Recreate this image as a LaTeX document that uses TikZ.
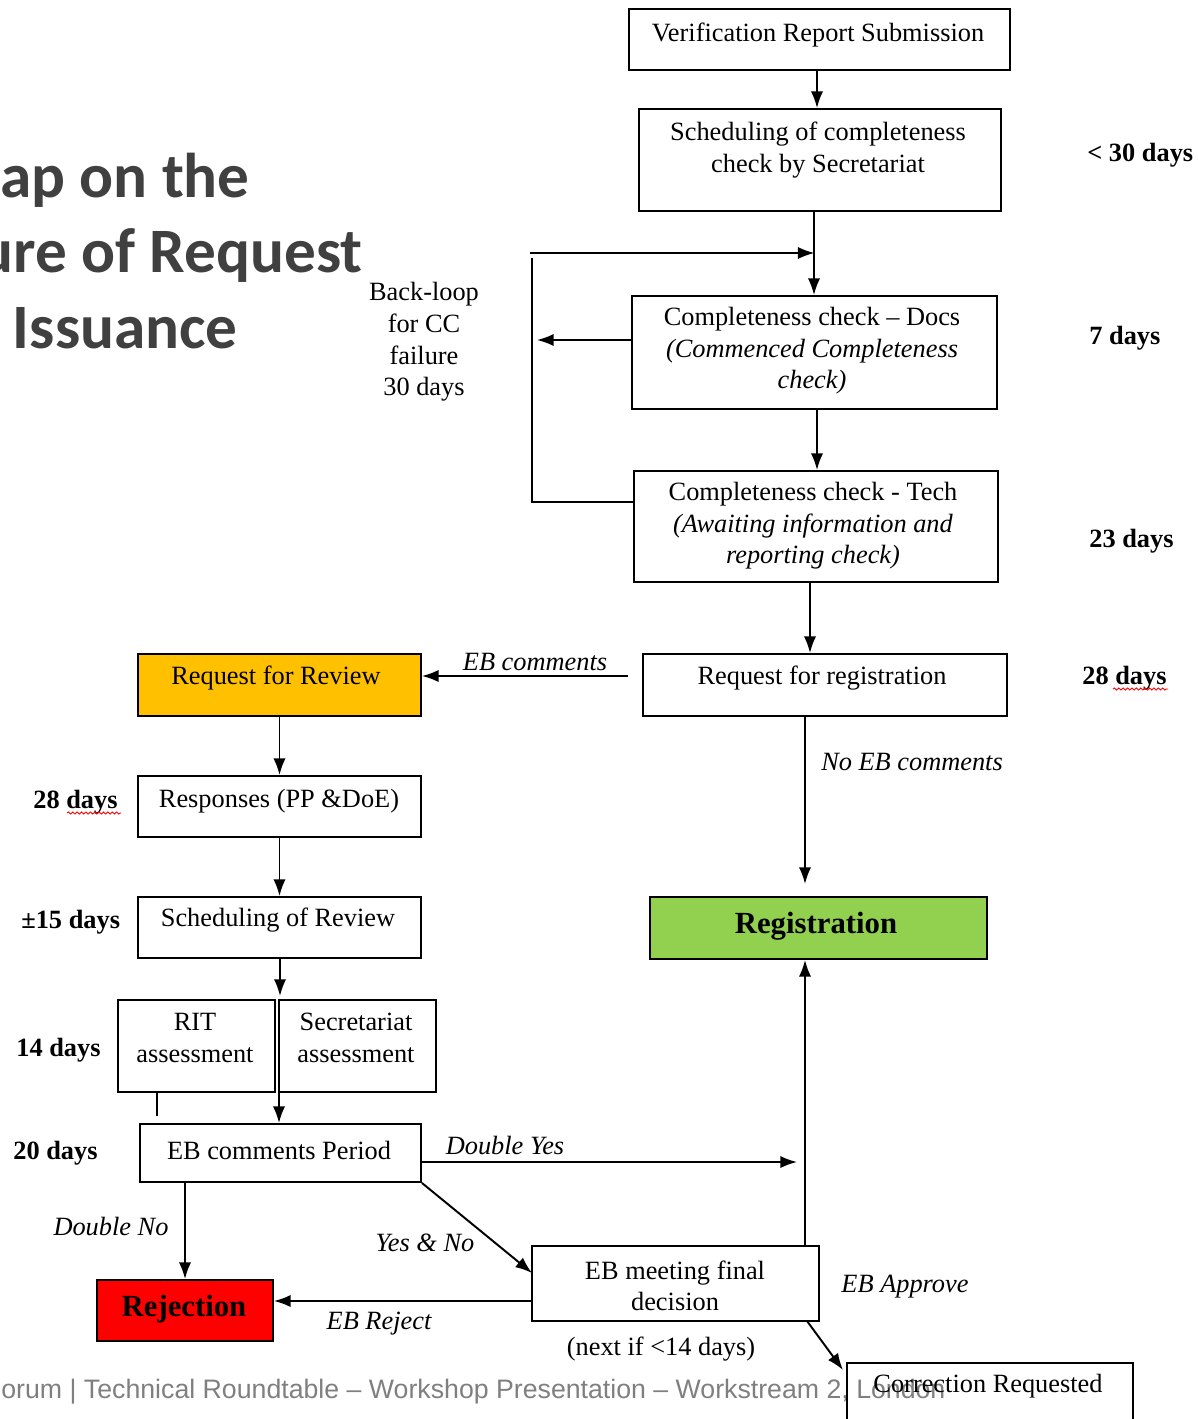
\documentclass[tikz,border=0pt]{standalone}
\usepackage{fontspec}
\setmainfont{Liberation Serif}
\newfontfamily\titlefont{Carlito}
\newfontfamily\footfont{Liberation Sans}
\usetikzlibrary{arrows.meta,decorations.pathmorphing}
\definecolor{reviewgold}{HTML}{FFC000}
\definecolor{reggreen}{HTML}{92D050}
\definecolor{rejred}{HTML}{FF0000}
\definecolor{titlegray}{HTML}{404040}
\definecolor{footgray}{HTML}{7F7F7F}
\begin{document}
\begin{tikzpicture}[x=0.02cm,y=-0.02cm,
    box/.style={draw,line width=1.1pt,inner sep=0pt},
    txt/.style={align=center,inner sep=0pt,font=\fontsize{15}{18}\selectfont},
    bigtxt/.style={align=center,inner sep=0pt,font=\fontsize{17.5}{21}\selectfont\bfseries},
    daylbl/.style={anchor=west,inner sep=0pt,font=\fontsize{15}{18}\selectfont\bfseries},
    cond/.style={inner sep=0pt,font=\fontsize{15}{18}\selectfont\itshape},
    flow/.style={line width=1.1pt,->,>={Latex[length=9.5pt,width=7pt]}},
    squiggle/.style={red,line width=0.5pt,decorate,decoration={snake,amplitude=0.6pt,segment length=2.5pt}}]
                % frame
                \useasboundingbox (0,0) rectangle (1197,1419);
                \clip (0,0) rectangle (1197,1419);
                % title
                \node[anchor=base east,inner sep=0pt,text=titlegray,font=\fontsize{36}{44}\selectfont\titlefont\bfseries] (title1) at (250,197) {ap on the};
                \node[anchor=base east,inner sep=0pt,text=titlegray,font=\fontsize{36}{44}\selectfont\titlefont\bfseries] (title2) at (363,272) {ure of Request};
                \node[anchor=base east,inner sep=0pt,text=titlegray,font=\fontsize{36}{44}\selectfont\titlefont\bfseries] (title3) at (238,348) {Issuance};
                % footer
                \node[anchor=base west,inner sep=0pt,text=footgray,font=\fontsize{15.2}{18}\selectfont\footfont] (foot) at (1,1398) {orum | Technical Roundtable – Workshop Presentation – Workstream 2, London};
                % right column
                \node[box,minimum width=7.62cm,minimum height=1.22cm] (vrs) at (819.5,39.5) {};
                \node[txt] (vrst) at (818,35) {Verification Report Submission};
                \node[box,minimum width=7.24cm,minimum height=2.04cm] (sched) at (820,160) {};
                \node[txt] (schedt) at (818,150) {Scheduling of completeness\\check by Secretariat};
                \node[box,minimum width=7.30cm,minimum height=2.26cm] (docs) at (814.5,352.5) {};
                \node[txt] (docst) at (812,351) {Completeness check – Docs\\\textit{(Commenced Completeness}\\\textit{check)}};
                \node[box,minimum width=7.28cm,minimum height=2.22cm] (tech) at (816,526.5) {};
                \node[txt] (techt) at (813,526) {Completeness check - Tech\\\textit{(Awaiting information and}\\\textit{reporting check)}};
                \node[box,minimum width=7.28cm,minimum height=1.24cm] (reqreg) at (825,685) {};
                \node[txt] (reqregt) at (822,678) {Request for registration};
                \node[box,fill=reggreen,minimum width=6.74cm,minimum height=1.24cm] (regn) at (818.5,928) {};
                \node[bigtxt] (regnt) at (816,926) {Registration};
                % left column
                \node[box,fill=reviewgold,minimum width=5.66cm,minimum height=1.24cm] (review) at (279.5,685) {};
                \node[txt] (reviewt) at (276,678) {Request for Review};
                \node[box,minimum width=5.66cm,minimum height=1.22cm] (resp) at (279.5,806.5) {};
                \node[txt] (respt) at (279,801) {Responses (PP \&DoE)};
                \node[box,minimum width=5.66cm,minimum height=1.22cm] (schedrev) at (279.5,927.5) {};
                \node[txt] (schedrevt) at (278,920) {Scheduling of Review};
                \node[box,minimum width=3.14cm,minimum height=1.84cm] (rit) at (196.5,1046) {};
                \node[txt] (ritt) at (195,1038) {RIT\\assessment};
                \node[box,minimum width=3.14cm,minimum height=1.84cm] (secr) at (357.5,1046) {};
                \node[txt] (secrt) at (356,1038) {Secretariat\\assessment};
                \node[box,minimum width=5.62cm,minimum height=1.16cm] (ebc) at (280.5,1153) {};
                \node[txt] (ebct) at (279,1150) {EB comments Period};
                \node[box,fill=rejred,minimum width=3.52cm,minimum height=1.22cm] (rej) at (185,1310.5) {};
                \node[bigtxt] (rejt) at (184,1309) {Rejection};
                \node[box,minimum width=5.74cm,minimum height=1.50cm] (ebm) at (675.5,1283.5) {};
                \node[txt] (ebmt) at (675,1286) {EB meeting final\\decision};
                \node[box,anchor=north,minimum width=5.72cm,minimum height=2.4cm] (corr) at (990,1362) {};
                \node[txt] (corrt) at (988,1386) {Correction Requested};
                % durations
                \node[daylbl] (d30) at (1087,155) {< 30 days};
                \node[daylbl] (d7) at (1089,338) {7 days};
                \node[daylbl] (d23) at (1089,541) {23 days};
                \node[daylbl] (d28r) at (1082,678) {28 days};
                \node[daylbl] (d28l) at (33,802) {28 days};
                \node[daylbl] (d15) at (21,922) {±15 days};
                \node[daylbl] (d14) at (16,1050) {14 days};
                \node[daylbl] (d20) at (13,1153) {20 days};
                \draw[squiggle] (1113,689) -- (1168,689);
                \draw[squiggle] (67,813) -- (121,813);
                \node[txt] (backloop) at (424,342) {Back-loop\\for CC\\failure\\30 days};
                % loop for CC failure
                \coordinate (lpa) at (532,258);
                \coordinate (lpb) at (532,502);
                \coordinate (lpc) at (530,253);
                \coordinate (lpd) at (537,340);
                \draw[line width=1.1pt] (lpa) -- (lpb) -- (lpb -| tech.west);
                \draw[flow] (lpc) -- (lpc -| docs.north);
                \draw[flow] (lpd -| docs.west) -- (lpd);
                % main flow
                \coordinate (mainx) at (814,0);
                \draw[flow] (vrs.south -| 817,0) -- (sched.north -| 817,0);
                \draw[flow] (sched.south -| mainx) -- (docs.north -| mainx);
                \draw[flow] (docs.south -| 817,0) -- (tech.north -| 817,0);
                \draw[flow] (tech.south -| 810,0) -- (reqreg.north -| 810,0);
                \coordinate (ebcs) at (628,676);
                \draw[flow] (ebcs) -- (ebcs -| review.east);
                \node[cond] (ebcl) at (535,662) {EB comments};
                \coordinate (noeb) at (805,884);
                \draw[flow] (noeb |- reqreg.south) -- (noeb);
                \node[cond] (noebl) at (912,762) {No EB comments};
                \draw[flow] (review.south) -- (resp.north);
                \draw[flow] (resp.south) -- (schedrev.north);
                \coordinate (pairtop) at (280,996);
                \draw[flow] (schedrev.south -| pairtop) -- (pairtop);
                \coordinate (gap) at (279,1092);
                \draw[flow] (gap) -- (gap |- ebc.north);
                \coordinate (ritstub) at (157,1116);
                \draw[line width=1.1pt] (ritstub |- rit.south) -- (ritstub);
                % decisions
                \coordinate (dyes) at (797,1162);
                \draw[flow] (dyes -| ebc.east) -- (dyes);
                \node[cond] (dyesl) at (505,1145) {Double Yes};
                \coordinate (yesno) at (532,1273);
                \draw[flow] (ebc.south east) -- (yesno);
                \node[cond] (yesnol) at (425,1243) {Yes \& No};
                \draw[flow] (rej.north |- ebc.south) -- (rej.north);
                \node[cond] (dnol) at (111,1226) {Double No};
                \coordinate (ebrj) at (532,1301);
                \draw[flow] (ebrj) -- (ebrj -| rej.east);
                \node[cond] (ebrjl) at (379,1324) {EB Reject};
                \coordinate (ebap) at (805,1246);
                \draw[flow] (ebap) -- (ebap |- regn.south);
                \node[cond] (ebapl) at (905,1287) {EB Approve};
                \coordinate (corra) at (807,1321);
                \coordinate (corrb) at (843,1370);
                \draw[flow] (corra) -- (corrb);
                \node[txt] (nextl) at (661,1349) {(next if <14 days)};
\end{tikzpicture}
\end{document}
